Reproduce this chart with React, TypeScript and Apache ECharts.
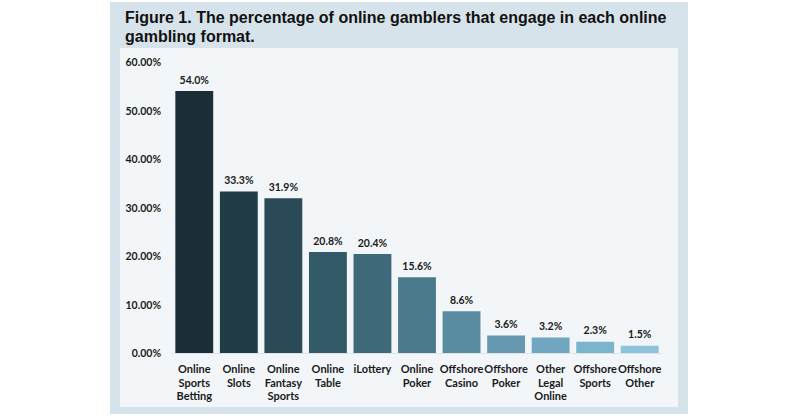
import React, { useEffect, useRef } from 'react';
import * as echarts from 'echarts';

const categories = [
  'Online\nSports\nBetting',
  'Online\nSlots',
  'Online\nFantasy\nSports',
  'Online\nTable',
  'iLottery',
  'Online\nPoker',
  'Offshore\nCasino',
  'Offshore\nPoker',
  'Other\nLegal\nOnline',
  'Offshore\nSports',
  'Offshore\nOther',
];
const values = [54.0, 33.3, 31.9, 20.8, 20.4, 15.6, 8.6, 3.6, 3.2, 2.3, 1.5];
const barColors = [
  '#1b2e38', '#213c47', '#294a56', '#335a68', '#3e6979', '#4a7a8c',
  '#598ca1', '#6699b0', '#70a6bf', '#7bb4cd', '#8dc4db',
];
const titleLines = [
  'Figure 1. The percentage of online gamblers that engage in each online',
  'gambling format.',
];

const labelFont = 'Lato, "Noto Sans", sans-serif';

const App: React.FC = () => {
  const ref = useRef<HTMLDivElement>(null);

  useEffect(() => {
    if (!ref.current) return;
    const chart = echarts.init(ref.current, null, { renderer: 'svg' });
    chart.setOption({
      animation: false,
      backgroundColor: '#ffffff',
      graphic: [
        { type: 'rect', z: -10, shape: { x: 110, y: 2, width: 578, height: 412 }, style: { fill: '#d6e3ea' } },
        { type: 'rect', z: -9, shape: { x: 120, y: 48, width: 558, height: 359 }, style: { fill: '#f3f6f9' } },
        ...titleLines.map((t, i) => ({
          type: 'text',
          x: 125,
          y: 17 + i * 19,
          style: {
            text: t,
            font: 'bold 16px "Liberation Sans", Arial, sans-serif',
            fill: '#111',
            verticalAlign: 'middle',
          },
        })),
      ],
      grid: { left: 172, right: 138, top: 62, bottom: 66, containLabel: false },
      xAxis: {
        type: 'category',
        data: categories,
        axisTick: { show: false },
        axisLine: { show: true, lineStyle: { color: '#dde3e8' } },
        axisLabel: {
          interval: 0,
          margin: 9,
          fontFamily: labelFont,
          fontWeight: 'bold',
          fontSize: 11,
          lineHeight: 13.5,
          color: '#1a1a1a',
        },
      },
      yAxis: {
        type: 'value',
        min: 0,
        max: 60,
        interval: 10,
        splitLine: { show: false },
        axisLine: { show: false },
        axisTick: { show: false },
        axisLabel: {
          margin: 11,
          fontFamily: labelFont,
          fontWeight: 'bold',
          fontSize: 10.5,
          color: '#1a1a1a',
          formatter: (v: number) => v.toFixed(2) + '%',
        },
      },
      series: [
        {
          type: 'bar',
          data: values.map((v, i) => ({ value: v, itemStyle: { color: barColors[i] } })),
          barCategoryGap: '15%',
          label: {
            show: true,
            position: 'top',
            distance: 6,
            fontFamily: labelFont,
            fontWeight: 'bold',
            fontSize: 10.5,
            color: '#1a1a1a',
            formatter: (p: any) => p.value.toFixed(1) + '%',
          },
        },
      ],
    });
    return () => chart.dispose();
  }, []);

  return (
    <div
      ref={ref}
      style={{ position: 'fixed', left: 0, top: 0, width: 800, height: 419 }}
    />
  );
};

export default App;
